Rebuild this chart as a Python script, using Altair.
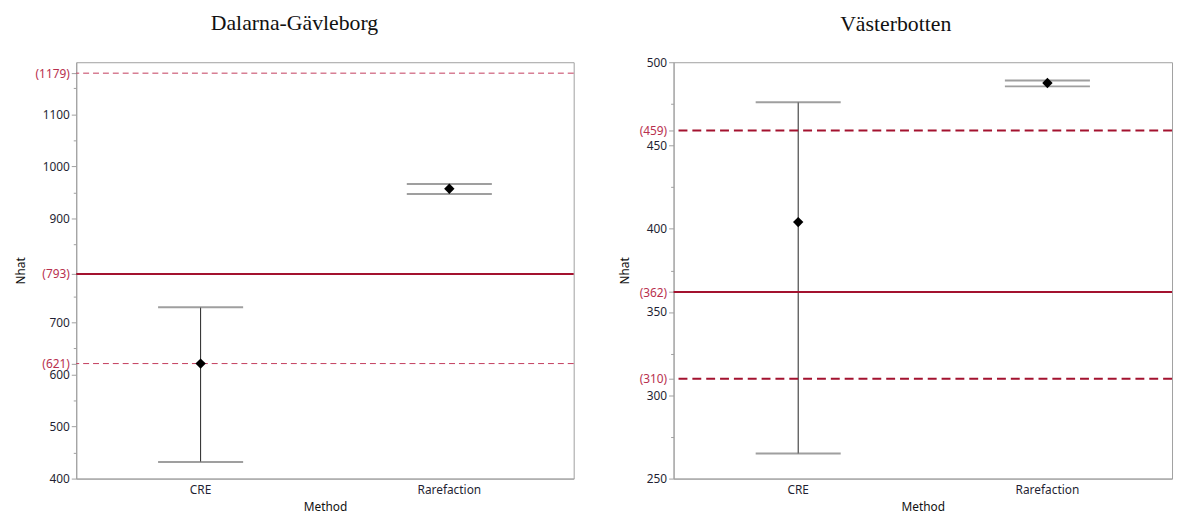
import altair as alt
import pandas as pd

methods = ["CRE", "Rarefaction"]

# Dalarna-Gävleborg
dg_est = [621, 957]
dg_lo = [432, 947]
dg_hi = [729, 966]
dg_ref_dashed = [1179, 621]
dg_ref_solid = [793]
dg_major = [400, 500, 600, 700, 900, 1000, 1100]
dg_minor = [450, 550, 650, 750, 850, 950, 1050, 1150]
dg_domain = [400, 1200]

# Västerbotten
vb_est = [404, 487.5]
vb_lo = [265, 485.5]
vb_hi = [476, 489]
vb_ref_dashed = [459, 310]
vb_ref_solid = [362]
vb_major = [250, 300, 350, 400, 450, 500]
vb_minor = [275, 325, 375, 425, 475]
vb_domain = [250, 500]

FONT = "Noto Sans"
LABEL_COL = "#1f1f33"
REF_COL = "#b8304e"
AX_COL = "#a0a0a0"


def panel(title, est, lo, hi, dashed, solid, major, minor, domain, width,
          dash, dash_w, dash_col, cap, toff):
    df = pd.DataFrame({"Method": methods, "Nhat": est, "lo": lo, "hi": hi})
    refs = solid + dashed
    ref_list = ",".join(str(r) for r in refs)
    minor_list = ",".join(str(m) for m in minor)
    test = f"indexof([{ref_list}], datum.value) >= 0"
    mtest = f"indexof([{minor_list}], datum.value) >= 0"
    yscale = alt.Scale(domain=domain, nice=False, zero=False)
    yaxis = alt.Axis(
        values=major + refs + minor, format="d",
        labelExpr=f"{mtest} ? '' : ({test} ? '(' + datum.label + ')' : datum.label)",
        labelColor={"condition": {"test": test, "value": REF_COL}, "value": LABEL_COL},
        tickSize={"condition": {"test": mtest, "value": 3}, "value": 5},
        labelOverlap=False, labelFontSize=12, labelFont=FONT,
        grid=False, title="Nhat", titleFont=FONT, titleFontSize=12,
        titleFontWeight="normal", titleColor="#111", titlePadding=8,
        domainColor=AX_COL, tickColor=AX_COL,
    )
    xaxis = alt.Axis(labelAngle=0, ticks=False, labelFont=FONT,
                     labelFontSize=12, labelColor=LABEL_COL,
                     titleFont=FONT, titleFontSize=12,
                     titleFontWeight="normal", titleColor="#111",
                     domainColor=AX_COL, labelPadding=6, titlePadding=6)

    def X():
        return alt.X("Method:N", sort=methods, title="Method", axis=xaxis)

    def Y(f):
        return alt.Y(f, scale=yscale, axis=yaxis, title="Nhat")

    main_rule = alt.Chart(df).mark_rule(color="#222", strokeWidth=1).encode(
        x=X(), y=Y("lo:Q"), y2="hi:Q")
    cap_lo = alt.Chart(df).mark_tick(color="#767676", thickness=2, size=cap).encode(
        x=X(), y=Y("lo:Q"))
    cap_hi = alt.Chart(df).mark_tick(color="#767676", thickness=2, size=cap).encode(
        x=X(), y=Y("hi:Q"))
    pts = alt.Chart(df).mark_point(shape="diamond", filled=True, size=110,
                                   color="black", opacity=1).encode(
        x=X(), y=Y("Nhat:Q"))
    solid_l = alt.Chart(pd.DataFrame({"r": solid})).mark_rule(
        color="#a3122f", strokeWidth=2).encode(y=Y("r:Q"))
    dashed_l = alt.Chart(pd.DataFrame({"r": dashed})).mark_rule(
        color=dash_col, strokeWidth=dash_w, strokeDash=dash).encode(y=Y("r:Q"))

    ch = alt.layer(main_rule, solid_l, dashed_l, cap_lo, cap_hi, pts).properties(
        width=width, height=421,
        title=alt.Title(title, font="Liberation Serif", fontSize=22,
                        fontWeight="normal", anchor="middle", frame="bounds",
                        color="#111", offset=toff))
    return ch


left = panel("Dalarna-Gävleborg", dg_est, dg_lo, dg_hi, dg_ref_dashed, dg_ref_solid,
             dg_major, dg_minor, dg_domain, 503, [6, 4], 1, "#c23c5c", 86, 28)
right = panel("Västerbotten", vb_est, vb_lo, vb_hi, vb_ref_dashed, vb_ref_solid,
              vb_major, vb_minor, vb_domain, 504, [9, 5], 2, "#a3122f", 86, 21)

chart = alt.hconcat(left, right, spacing=42).properties(
    padding={"left": 5, "top": 0, "right": 0, "bottom": 0}
).configure_view(stroke=AX_COL, strokeWidth=1).configure_axis(labelOverlap=False)

chart.save("out.html", embed_options={"renderer": "svg", "actions": False})
